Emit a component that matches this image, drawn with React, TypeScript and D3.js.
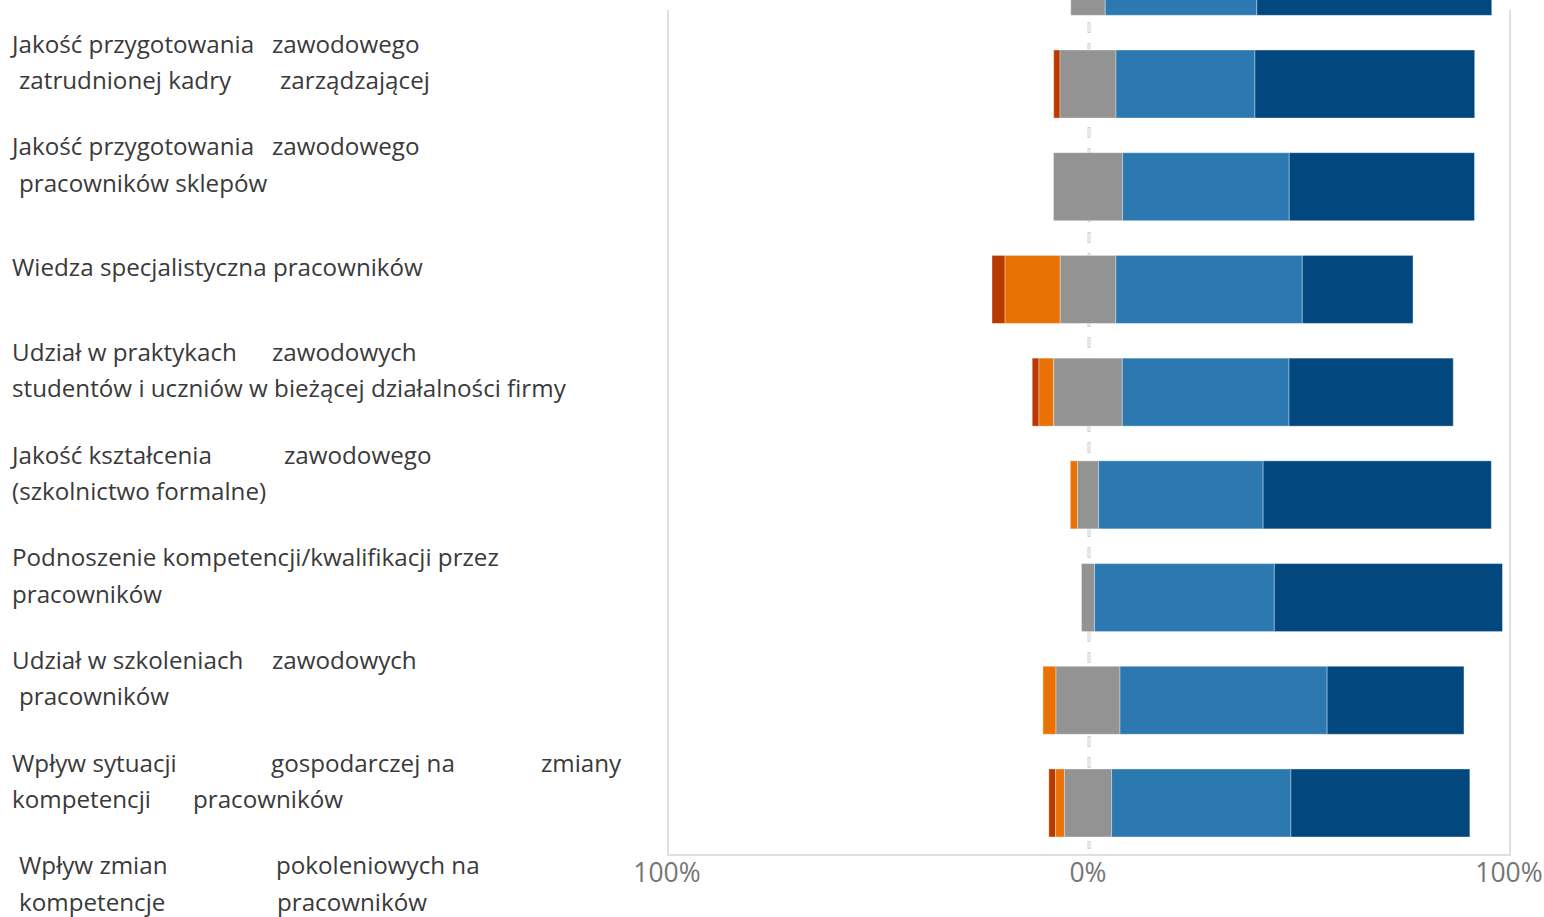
import React from "react";
import * as d3 from "d3";

// Series (percent of answers), neutral is centred on 0
const seriesKeys = ["Zdecydowanie negatywnie", "Negatywnie", "Neutralnie", "Pozytywnie", "Zdecydowanie pozytywnie"];
const seriesColors = ["#B83A00", "#E97105", "#939393", "#2C79B1", "#02487F"];

// bar rows, top to bottom (the first row is cut off at the top of the view)
const strongNeg = [0, 1.5, 0, 3.1, 1.6, 0, 0, 0, 1.6];
const neg = [0, 0, 0, 13.1, 3.5, 1.7, 0, 3.1, 2.1];
const neutral = [8.2, 13.3, 16.4, 13.2, 16.3, 5.0, 3.1, 15.2, 11.2];
const pos = [36.0, 33.0, 39.6, 44.3, 39.6, 39.1, 42.7, 49.2, 42.6];
const strongPos = [55.8, 52.2, 44.0, 26.3, 39.0, 54.2, 54.2, 32.5, 42.5];

const tickValues = [-100, 0, 100];
const tickLabels = ["100%", "0%", "100%"];

// category labels (lines -> segments)
const labelLines: string[][][] = [
  [["Jakość przygotowania", "zawodowego"], ["zatrudnionej kadry", "zarządzającej"]],
  [["Jakość przygotowania", "zawodowego"], ["pracowników sklepów"]],
  [["Wiedza specjalistyczna pracowników"]],
  [["Udział w praktykach", "zawodowych"], ["studentów i uczniów w bieżącej działalności firmy"]],
  [["Jakość kształcenia", "zawodowego"], ["(szkolnictwo formalne)"]],
  [["Podnoszenie kompetencji/kwalifikacji przez"], ["pracowników"]],
  [["Udział w szkoleniach", "zawodowych"], ["pracowników"]],
  [["Wpływ sytuacji", "gospodarczej na", "zmiany"], ["kompetencji", "pracowników"]],
  [["Wpływ zmian", "pokoleniowych na"], ["kompetencje", "pracowników"]],
];

// layout: x of each label segment
const labelSegX: number[][][] = [
  [[12, 272], [19, 280]],
  [[12, 272], [19]],
  [[12]],
  [[12, 272], [12]],
  [[12, 284], [12]],
  [[12], [12]],
  [[12, 272], [19]],
  [[12, 271, 541], [12, 193]],
  [[19, 276], [19, 277]],
];

const W = 1544;
const H = 917;
const FONT = "'Open Sans', 'Noto Sans', sans-serif";

export default function App() {
  const x = d3.scaleLinear().domain([-100, 100]).range([667, 1509]);
  const step = 102.71;
  const p = 1 - 68 / step;
  const start = -52.7 - (step * p) / 2;
  const slots = d3.range(10);
  const y = d3
    .scaleBand<number>()
    .domain(slots)
    .range([start, start + slots.length * step])
    .paddingInner(p)
    .paddingOuter(p / 2);

  const rows = strongNeg.map((_, i) => [strongNeg[i], neg[i], neutral[i], pos[i], strongPos[i]]);

  const segments = rows.map((vals, i) => {
    let left = -(vals[0] + vals[1] + vals[2] / 2);
    return vals.map((v, k) => {
      const s = { x0: left, x1: left + v, k, row: i };
      left += v;
      return s;
    });
  });

  const plotTop = 10;
  const plotBottom = 855;
  const frameL = x(-100) + 1;
  const frameR = x(100) + 1;
  const zeroX = x(0) + 1;

  return (
    <svg width={W} height={H} style={{ position: "absolute", left: 0, top: 0, background: "#fff" }}>
      {/* plot frame */}
      <line x1={frameL} x2={frameL} y1={plotTop} y2={plotBottom} stroke="#e0e0e0" strokeWidth={2} />
      <line x1={frameR} x2={frameR} y1={plotTop} y2={plotBottom} stroke="#e0e0e0" strokeWidth={2} />
      <line x1={frameL - 1} x2={frameR + 1} y1={plotBottom} y2={plotBottom} stroke="#e0e0e0" strokeWidth={2} />
      {/* zero line */}
      <line x1={zeroX} x2={zeroX} y1={plotTop + 12} y2={plotBottom - 6} stroke="#cfcfcf" strokeWidth={3} strokeDasharray="11,10" />
      <line x1={zeroX} x2={zeroX} y1={plotTop + 13} y2={plotBottom - 7} stroke="#ffffff" strokeWidth={1} strokeDasharray="9,12" />

      {/* bars */}
      {segments.map((row, i) =>
        row
          .filter((s) => s.x1 - s.x0 > 0)
          .map((s) => (
            <rect
              key={`${i}-${s.k}`}
              x={x(s.x0)}
              y={y(i)!}
              width={x(s.x1) - x(s.x0)}
              height={y.bandwidth()}
              fill={seriesColors[s.k]}
              stroke="#ffffff"
              strokeOpacity={0.35}
              strokeWidth={1}
            >
              <title>{`${seriesKeys[s.k]}: ${rows[i][s.k]}%`}</title>
            </rect>
          ))
      )}

      {/* tick labels */}
      {tickValues.map((t, i) => (
        <text
          key={t + "-" + i}
          x={x(t)}
          y={882}
          textAnchor="middle"
          fontFamily={FONT}
          fontSize={26.5}
          fill="#767676"
        >
          {tickLabels[i]}
        </text>
      ))}

      {/* category labels */}
      {labelLines.map((lines, li) => {
        const slot = li + 1;
        const top = y(slot)!;
        const center = top + 12.5;
        const lh = 36.5;
        const n = lines.length;
        return lines.map((segs, ln) => {
          const cy = center + (ln - (n - 1) / 2) * lh;
          return segs.map((seg, si) => (
            <text
              key={`${li}-${ln}-${si}`}
              x={labelSegX[li][ln][si]}
              y={cy}
              dy="0.35em"
              fontFamily={FONT}
              fontSize={24.2}
              fill="#3a3a3a"
            >
              {seg}
            </text>
          ));
        });
      })}
    </svg>
  );
}
